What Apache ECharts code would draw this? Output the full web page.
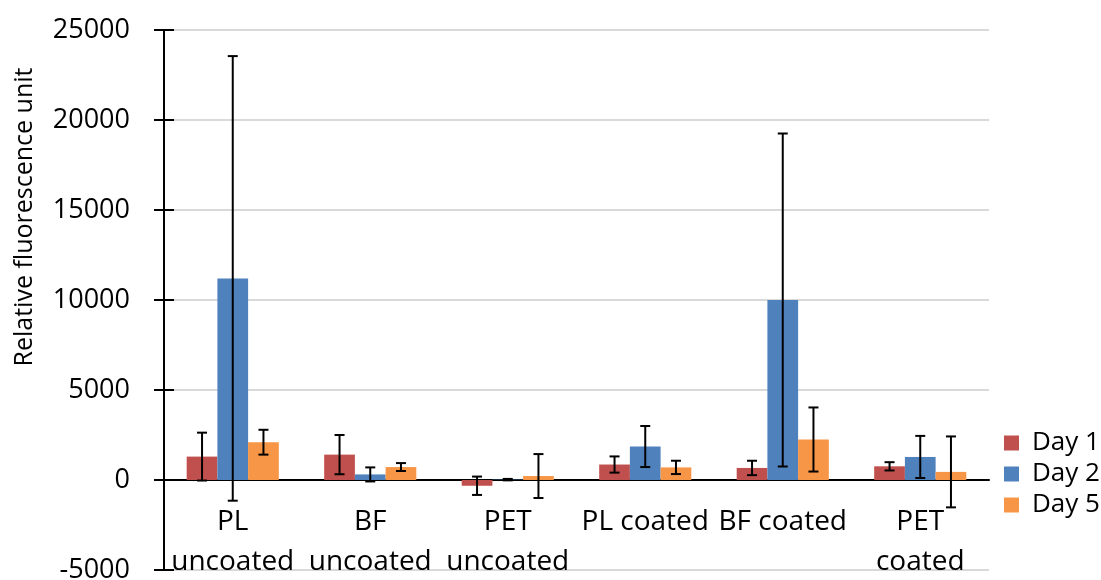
<!DOCTYPE html>
<html lang="en">

<head>
	<meta charset="UTF-8">
	<title>Relative fluorescence</title>
	<script src="https://cdn.jsdelivr.net/npm/echarts@6/dist/echarts.min.js"></script>
	<style>
		body { margin: 0; background: #fff; }
	</style>
</head>

<body>
	<div id="main" style="width: 1101px;height: 580px;"></div>
</body>

<script>
	let mcharts = echarts.init(document.getElementById('main'))

	// 样品类别
	const categories = ['PL\nuncoated', 'BF\nuncoated', 'PET\nuncoated', 'PL coated', 'BF coated', 'PET\ncoated']
	const seriesNames = ['Day 1', 'Day 2', 'Day 5']
	const colors = ['#C0504D', '#4F81BD', '#F79646']

	// 平均值和误差
	const day1 = [1300, 1410, -320, 860, 670, 760]
	const day1Err = [1330, 1090, 510, 450, 400, 230]
	const day2 = [11200, 310, 20, 1860, 10000, 1280]
	const day2Err = [12350, 390, 40, 1140, 9250, 1170]
	const day5 = [2100, 720, 220, 700, 2250, 450]
	const day5Err = [690, 220, 1220, 370, 1780, 1970]

	const yTicks = [-5000, 0, 5000, 10000, 15000, 20000, 25000]

	const means = [day1, day2, day5]
	const errs = [day1Err, day2Err, day5Err]
	const gapRatio = 0.33

	const font = 'Open Sans'

	// 误差线
	function errorSeries(s) {
		const data = means[s].map((v, i) => [i, v, errs[s][i]])
		return {
			type: 'custom',
			name: 'err' + s,
			z: 10,
			silent: true,
			data: data,
			encode: { x: 0, y: 1 },
			renderItem: function (params, api) {
				const idx = api.value(0)
				const v = api.value(1)
				const e = api.value(2)
				const band = api.size([1, 0])[0]
				const bw = band * (1 - gapRatio) / 3
				const cx = api.coord([idx, 0])[0] + (s - 1) * bw
				const yt = api.coord([idx, v + e])[1]
				const yb = api.coord([idx, v - e])[1]
				const hw = 5
				const st = { stroke: '#000', lineWidth: 2 }
				return {
					type: 'group',
					children: [
						{ type: 'line', shape: { x1: cx, y1: yt, x2: cx, y2: yb }, style: st },
						{ type: 'line', shape: { x1: cx - hw, y1: yt, x2: cx + hw, y2: yt }, style: st },
						{ type: 'line', shape: { x1: cx - hw, y1: yb, x2: cx + hw, y2: yb }, style: st }
					]
				}
			}
		}
	}

	const barSeries = seriesNames.map((name, s) => ({
		type: 'bar',
		name: name,
		data: means[s],
		barGap: '0%',
		barCategoryGap: (gapRatio * 100) + '%',
		itemStyle: { color: colors[s] }
	}))

	let option = {
		animation: false,
		textStyle: { fontFamily: font },
		grid: { left: 164, right: 112, top: 30, bottom: 10, containLabel: false, outerBoundsMode: 'none' },
		legend: {
			orient: 'vertical',
			left: 999,
			top: 425,
			itemWidth: 15,
			itemHeight: 15,
			itemGap: 5,
			icon: 'rect',
			data: seriesNames,
			textStyle: { fontSize: 26, lineHeight: 24, color: '#000', fontFamily: font, padding: [0, 0, 0, 8] }
		},
		graphic: [{
			type: 'text',
			x: 25,
			y: 217,
			rotation: Math.PI / 2,
			style: {
				text: 'Relative fluorescence unit',
				font: '25px "Open Sans"',
				fill: '#000',
				align: 'center',
				verticalAlign: 'middle'
			}
		}],
		xAxis: {
			type: 'category',
			data: categories,
			axisLine: { onZero: true, lineStyle: { color: '#000', width: 2 } },
			axisTick: { show: false },
			axisLabel: {
				interval: 0,
				margin: -68, // 标签紧贴0线下方
				fontSize: 28,
				lineHeight: 40,
				verticalAlign: 'top',
				color: '#000',
				fontFamily: font
			},
			splitLine: { show: false }
		},
		yAxis: [{
			type: 'value',
			min: yTicks[0],
			max: yTicks[yTicks.length - 1],
			interval: 5000,
			axisLine: { show: true, lineStyle: { color: '#000', width: 2 } },
			axisTick: { show: true, length: 10, lineStyle: { color: '#000', width: 2 } },
			axisLabel: { margin: 34, fontSize: 27, color: '#000', fontFamily: font, formatter: (v) => String(v) },
			splitLine: { show: true, lineStyle: { color: '#d9d9d9', width: 2 } }
		}, {
			// 刻度线穿过坐标轴
			type: 'value',
			min: yTicks[0],
			max: yTicks[yTicks.length - 1],
			interval: 5000,
			position: 'left',
			axisLine: { show: false },
			axisTick: { show: true, inside: true, length: 10, lineStyle: { color: '#000', width: 2 } },
			axisLabel: { show: false },
			splitLine: { show: false }
		}],
		series: barSeries.concat([0, 1, 2].map(errorSeries))
	}

	mcharts.setOption(option)
</script>

</html>
